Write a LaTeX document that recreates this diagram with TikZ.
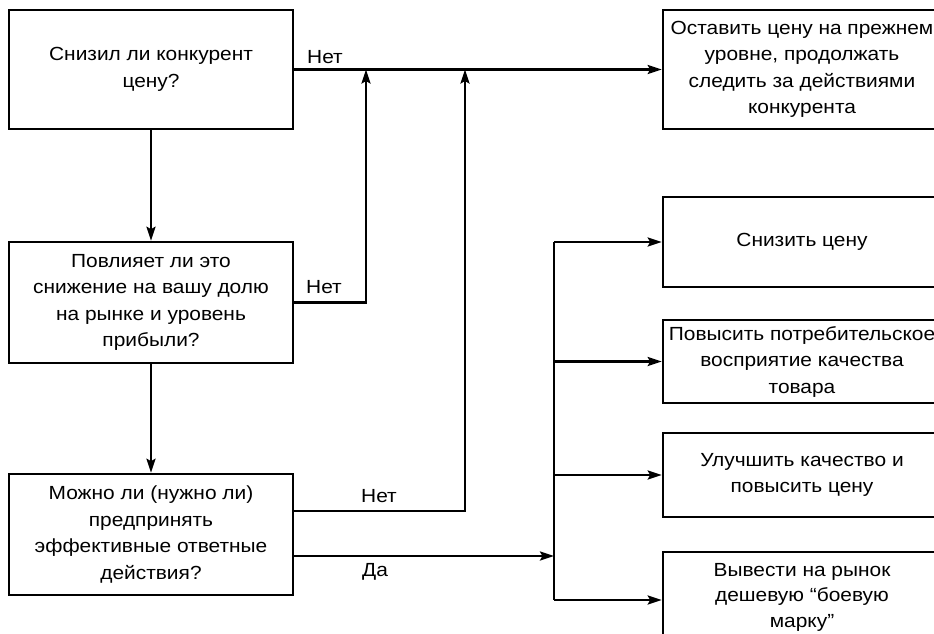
\documentclass[tikz,border=0pt]{standalone}
\usepackage{fontspec}
\setmainfont[FakeStretch=1.1]{Liberation Sans}
\usetikzlibrary{arrows.meta}
\begin{document}
\begin{tikzpicture}[x=1pt,y=-1pt,
  box/.style={draw,line width=2.6pt,rectangle,align=center,inner sep=0pt,
    font=\fontsize{19}{26.5}\selectfont},
  qbox/.style={box,minimum width=284pt},
  abox/.style={box,minimum width=278pt},
  conn/.style={line width=2.5pt},
  arr/.style={conn,-{Stealth[length=14pt,width=9pt,inset=2.5pt]}},
  lbl/.style={font=\fontsize{19}{22}\selectfont,inner sep=0pt}]
\useasboundingbox (0,0) rectangle (934,633);
\clip (0,0) rectangle (934,633);

% questions on the left
\node[qbox,minimum height=119pt] (q1) at (151,69.5) {Снизил ли конкурент\\цену?};
\node[qbox,minimum height=121pt] (q2) at (151,302.5) {Повлияет ли это\\снижение на вашу долю\\на рынке и уровень\\прибыли?};
\node[qbox,minimum height=121pt] (q3) at (151,534.5) {Можно ли (нужно ли)\\предпринять\\эффективные ответные\\действия?};

% possible responses on the right
\node[abox,minimum height=119pt] (r0) at (802,69.5) {Оставить цену на прежнем\\уровне, продолжать\\следить за действиями\\конкурента};
\node[abox,minimum height=90pt] (r1) at (802,242) {Снизить цену};
\node[abox,minimum height=83pt] (r2) at (802,361.5) {Повысить потребительское\\восприятие качества\\товара};
\node[abox,minimum height=84pt] (r3) at (802,475) {Улучшить качество и\\повысить цену};
\node[abox,minimum height=90pt,font=\fontsize{19}{25.5}\selectfont] (r4) at (802,597) {Вывести на рынок\\дешевую “боевую\\марку”};

% helper points
\coordinate (n1) at (366,69.5);
\coordinate (n2) at (465,69.5);
\coordinate (j) at (554,556);
\coordinate (jtop) at (554,242);
\coordinate (jbot) at (554,600);

% main flow
\draw[arr] (q1) -- (q2);
\draw[arr] (q2) -- (q3);
\draw[arr] (q1.east) -- (r0.west);
\draw[arr] (q2.east) -| (n1);
\draw[arr] ([yshift=23.5pt]q3.east) -| (n2);
\draw[arr] ([yshift=-21.5pt]q3.east) -- (j);

% branching to the responses
\draw[conn] (jtop) -- (jbot);
\draw[arr] (jtop) -- (r1.west);
\draw[arr] (554,361.5) -- (r2.west);
\draw[arr] (554,475) -- (r3.west);
\draw[arr] (jbot) -- (jbot -| r4.west);

% labels
\node[lbl] (l1) at (325,57) {Нет};
\node[lbl] (l2) at (324,287) {Нет};
\node[lbl] (l3) at (379,496) {Нет};
\node[lbl] (l4) at (375,572) {Да};
\end{tikzpicture}
\end{document}
